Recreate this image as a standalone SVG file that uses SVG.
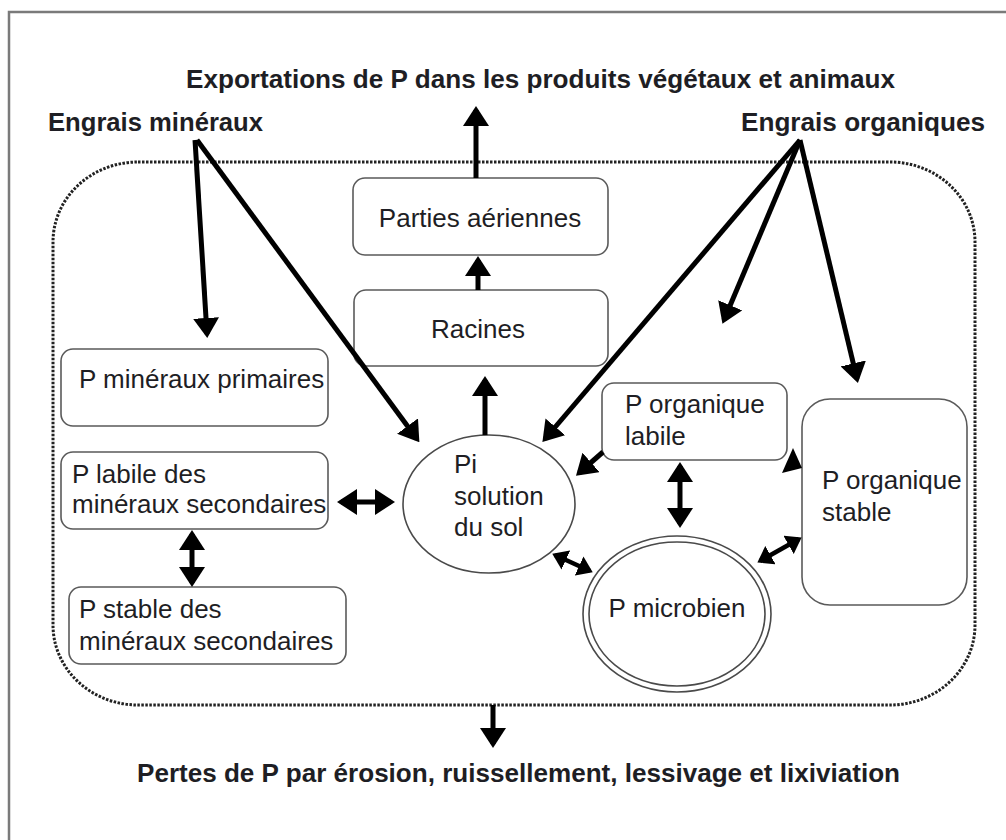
<svg xmlns="http://www.w3.org/2000/svg" width="1006" height="840" viewBox="0 0 1006 840">
<style>
.t{font-family:"Liberation Sans",Arial,sans-serif;font-size:26px;fill:#1e1e24}
.b{font-family:"Liberation Sans",Arial,sans-serif;font-size:25.5px;font-weight:bold;fill:#1e1e24}
.box{fill:#fff;stroke:#5a5a5a;stroke-width:1.6}
.ell{fill:#fff;stroke:#4a4a4a;stroke-width:1.6}
.a{stroke:#000;stroke-width:5;fill:none;marker-end:url(#ah)}
.d{stroke:#000;stroke-width:5;fill:none;marker-start:url(#ah);marker-end:url(#ah)}
.ds{stroke:#000;stroke-width:4.5;fill:none;marker-start:url(#hs);marker-end:url(#hs)}
</style>
<defs>
<marker id="ah" viewBox="0 0 20 26" refX="16" refY="13" markerWidth="20" markerHeight="26" markerUnits="userSpaceOnUse" orient="auto-start-reverse">
<path d="M0,0 L20,13 L0,26 z" fill="#000"/>
</marker>
<marker id="hs" viewBox="0 0 15 21" refX="12" refY="10.5" markerWidth="15" markerHeight="21" markerUnits="userSpaceOnUse" orient="auto-start-reverse">
<path d="M0,0 L15,10.5 L0,21 z" fill="#000"/>
</marker>
</defs>
<rect width="1006" height="840" fill="#fff"/>
<path d="M9,840 V12 H1006" fill="none" stroke="#7a7a7a" stroke-width="2.5"/>
<rect id="boundary" x="53" y="162" width="922" height="543" rx="85" ry="80" fill="none" stroke="#222" stroke-width="3" stroke-dasharray="2.5 1.5"/>
<g id="labels">
<text class="b" x="186" y="88" textLength="709" lengthAdjust="spacingAndGlyphs">Exportations de P dans les produits végétaux et animaux</text>
<text class="b" x="48" y="131" textLength="215" lengthAdjust="spacingAndGlyphs">Engrais minéraux</text>
<text class="b" x="741" y="131" textLength="244" lengthAdjust="spacingAndGlyphs">Engrais organiques</text>
<text class="b" x="137" y="782" textLength="763" lengthAdjust="spacingAndGlyphs">Pertes de P par érosion, ruissellement, lessivage et lixiviation</text>
</g>
<g id="parties">
<rect class="box" x="353" y="178" width="255" height="77" rx="12"/>
<text class="t" x="480" y="227" text-anchor="middle">Parties aériennes</text>
</g>
<g id="racines">
<rect class="box" x="354" y="290" width="254" height="76" rx="12"/>
<text class="t" x="478" y="338" text-anchor="middle">Racines</text>
</g>
<g id="min-primaires">
<rect class="box" x="61" y="349" width="267" height="77" rx="12"/>
<text class="t" x="79" y="388">P minéraux primaires</text>
</g>
<g id="labile-sec">
<rect class="box" x="61" y="452" width="267" height="77" rx="12"/>
<text class="t" x="72" y="483">P labile des</text>
<text class="t" x="72" y="513">minéraux secondaires</text>
</g>
<g id="stable-sec">
<rect class="box" x="69" y="587" width="277" height="77" rx="12"/>
<text class="t" x="79" y="618">P stable des</text>
<text class="t" x="79" y="650">minéraux secondaires</text>
</g>
<g id="pi">
<ellipse class="ell" cx="489" cy="504" rx="86" ry="69"/>
<text class="t" x="454" y="473">Pi</text>
<text class="t" x="454" y="505">solution</text>
<text class="t" x="454" y="536">du sol</text>
</g>
<g id="org-labile">
<rect class="box" x="602" y="383" width="185" height="77" rx="12"/>
<text class="t" x="625" y="413">P organique</text>
<text class="t" x="625" y="445">labile</text>
</g>
<g id="microbien">
<ellipse class="ell" cx="677" cy="614" rx="94" ry="78"/>
<ellipse class="ell" cx="677" cy="614" rx="88" ry="72"/>
<text class="t" x="677" y="617" text-anchor="middle">P microbien</text>
</g>
<g id="org-stable">
<rect class="box" x="802" y="399" width="165" height="206" rx="28"/>
<text class="t" x="822" y="489">P organique</text>
<text class="t" x="822" y="521">stable</text>
</g>
<g id="connectors">
<line class="a" x1="476" y1="178" x2="476" y2="110"/>
<line class="a" x1="478" y1="290" x2="478" y2="260"/>
<line class="a" x1="485" y1="435" x2="485" y2="380"/>
<line class="a" x1="195" y1="140" x2="207" y2="334"/>
<line class="a" x1="197" y1="140" x2="417" y2="439"/>
<line class="a" x1="800" y1="140" x2="545" y2="439"/>
<line class="a" x1="800" y1="140" x2="724" y2="320"/>
<line class="a" x1="800" y1="140" x2="857" y2="379"/>
<line class="a" x1="603" y1="452" x2="579" y2="473"/>
<polygon points="793,448 782,473 802,468" fill="#000"/>
<line class="d" x1="680" y1="466" x2="680" y2="524"/>
<line class="d" x1="341" y1="502" x2="391" y2="502"/>
<line class="d" x1="192" y1="534" x2="192" y2="583"/>
<line class="ds" x1="555" y1="555" x2="590" y2="571"/>
<line class="ds" x1="760" y1="561" x2="799" y2="539"/>
<line class="a" x1="493" y1="705" x2="493" y2="744"/>
</g>
</svg>
